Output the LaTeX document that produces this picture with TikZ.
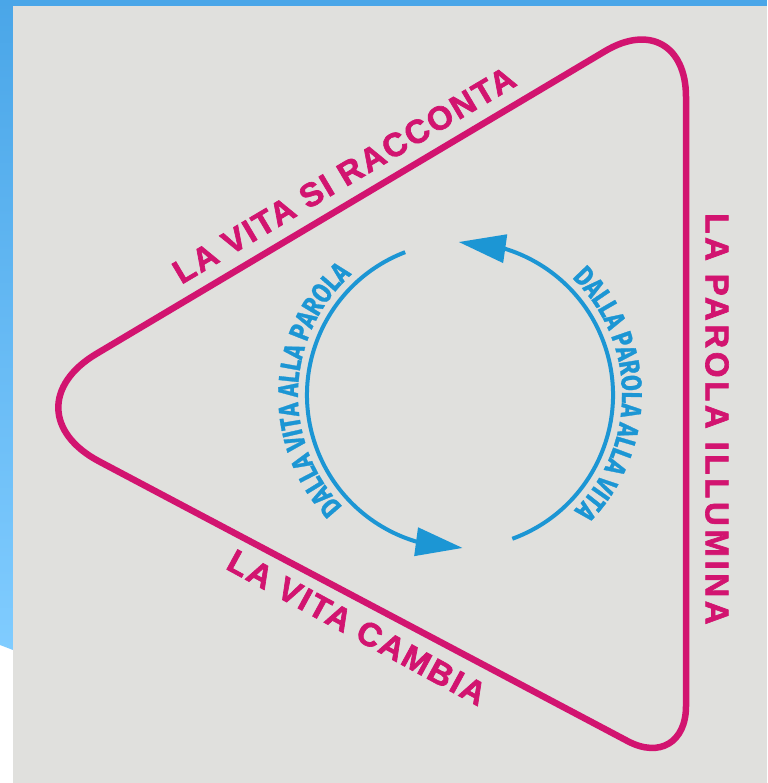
\documentclass[tikz,border=0pt]{standalone}
\usepackage{fontspec}
\setmainfont{Liberation Sans}
\newfontfamily\labelfont[LetterSpace=6,FakeBold=2]{Liberation Sans Bold}
\newfontfamily\widelabelfont[LetterSpace=11,FakeBold=2]{Liberation Sans Bold}
\newfontfamily\handfont[FakeStretch=0.8,FakeBold=1]{Fira Sans Bold}
\usetikzlibrary{calc,arrows.meta,bending,decorations.text}
\definecolor{magentaline}{RGB}{210,20,112}
\definecolor{arcblue}{RGB}{28,150,212}
\definecolor{frameblue}{RGB}{74,166,232}
\definecolor{framelight}{RGB}{128,204,255}
\definecolor{paper}{RGB}{224,224,221}
\newcommand\handtext{\handfont\fontsize{28.5}{28.5}\selectfont\color{arcblue}}
\tikzset{
  tri/.style={draw=magentaline, line width=6.5pt, line join=round},
  tlabel/.style={font=\labelfont\fontsize{33}{33}\selectfont, text=magentaline, inner sep=0pt},
  tlabelwide/.style={font=\widelabelfont\fontsize{33}{33}\selectfont, text=magentaline, inner sep=0pt},
  arcline/.style={draw=arcblue, line width=4pt, -{Triangle[length=47pt,width=28pt,flex]}},
}
\begin{document}
\begin{tikzpicture}[x=1pt,y=1pt]
\useasboundingbox (0,0) rectangle (767,783);
% frame and paper
\fill[white] (0,0) rectangle (767,783);
\fill[frameblue] (0,776) rectangle (767,783);
\shade[top color=frameblue, bottom color=framelight] (0,783) -- (13,783) -- (13,133) -- (0,138) -- cycle;
\fill[paper] (13,0) rectangle (767,777);
% triangle
\coordinate (vL) at (2,373);
\coordinate (vT) at (686,780);
\coordinate (vB) at (686,11);
\coordinate (L1) at ($(vL)!110pt!(vT)$);
\coordinate (T0) at ($(vT)!94pt!(vL)$);
\coordinate (T1) at ($(vT)!94pt!(vB)$);
\coordinate (B0) at ($(vB)!66pt!(vT)$);
\coordinate (B1) at ($(vB)!66pt!(vL)$);
\coordinate (L0) at ($(vL)!110pt!(vB)$);
\draw[tri] (L1) -- (T0) .. controls ($(T0)!0.55!(vT)$) and ($(T1)!0.55!(vT)$) .. (T1)
  -- (B0) .. controls ($(B0)!0.55!(vB)$) and ($(B1)!0.55!(vB)$) .. (B1)
  -- (L0) .. controls ($(L0)!0.55!(vL)$) and ($(L1)!0.55!(vL)$) .. cycle;
% labels
\node[tlabel, rotate=30.7] (t1) at (344,608) {LA VITA SI RACCONTA};
\node[tlabelwide, rotate=-90] (t2) at (717,364) {LA PAROLA ILLUMINA};
\node[tlabel, rotate=-28.6] (t3) at (357,155.5) {LA VITA CAMBIA};
% circle arrows
\coordinate (C) at (460,388);
\coordinate (a1s) at ($(C)+(111:153)$);
\coordinate (a2s) at ($(C)+(-70:153)$);
\draw[arcline] (a1s) arc[start angle=111, end angle=271, radius=153];
\draw[arcline] (a2s) arc[start angle=-70, end angle=90.5, radius=153];
% curved texts
\coordinate (p1s) at ($(C)+(225:162)$);
\coordinate (p2s) at ($(C)+(47:162)$);
\path[decorate, decoration={text along path, text={|\handtext|DALLA VITA ALLA PAROLA}, text align=center}]
  (p1s) arc[start angle=225, end angle=130.6, radius=162];
\path[decorate, decoration={text along path, text={|\handtext|DALLA PAROLA ALLA VITA}, text align=center}]
  (p2s) arc[start angle=47, end angle=-46, radius=162];
\end{tikzpicture}
\end{document}
